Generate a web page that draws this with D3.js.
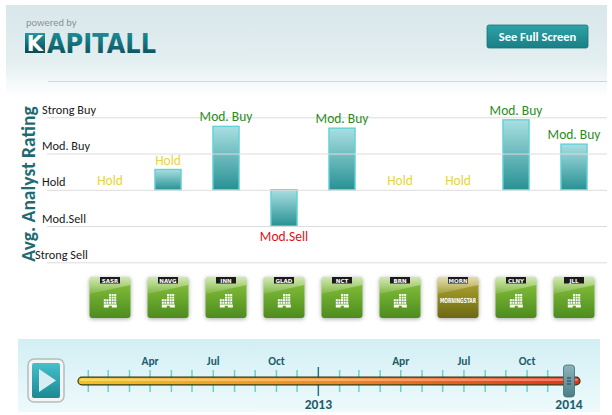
<!DOCTYPE html>
<html>
<head>
<meta charset="utf-8">
<script src="https://cdn.jsdelivr.net/npm/d3@7"></script>
<style>
  body { margin: 0; background: #fff; }
  svg { display: block; }
</style>
</head>
<body>
<script>
// Data
const TICKERS = ["SASR", "NAVG", "INN", "GLAD", "NCT", "BRN", "MORN", "CLNY", "JLL"];
const SCORES  = [0, 0.56, 1.75, -1.0, 1.70, 0, 0, 1.93, 1.26];
const RATINGS = ["Hold", "Hold", "Mod. Buy", "Mod.Sell", "Mod. Buy", "Hold", "Hold", "Mod. Buy", "Mod. Buy"];
const LEVELS  = [-2, -1, 0, 1, 2];
const LEVEL_LABELS = ["Strong Sell", "Mod.Sell", "Hold", "Mod. Buy", "Strong Buy"];
const TL_MONTHS = ["2012-04", "2012-07", "2012-10", "2013-04", "2013-07", "2013-10"];
const TL_YEARS  = [2013, 2014];
const TL_START = new Date(2012, 0, 1), TL_END = new Date(2014, 0, 1);

const W = 612, H = 415;
const FONT = "Carlito, Lato, 'Open Sans', sans-serif";
const RATING_COLOR = { "Hold": "#e6d43c", "Mod. Buy": "#2c8a1c", "Mod.Sell": "#e0101a" };

const svg = d3.select("body").append("svg")
  .attr("width", W).attr("height", H)
  .attr("font-family", FONT);

const defs = svg.append("defs");
function vgrad(id, stops, horiz) {
  const g = defs.append("linearGradient").attr("id", id)
    .attr("x1", 0).attr("y1", 0).attr("x2", horiz ? 1 : 0).attr("y2", horiz ? 0 : 1);
  stops.forEach(s => g.append("stop").attr("offset", s[0]).attr("stop-color", s[1]));
}
vgrad("hdr", [[0, "#d8e7ea"], [0.6, "#e3eef0"], [1, "#ffffff"]]);
vgrad("logo", [[0, "#1f98a2"], [1, "#0b4753"]]);
vgrad("btn", [[0, "#2ea3a8"], [1, "#197f85"]]);
vgrad("bar", [[0, "#a9dfe2"], [1, "#289193"]]);
vgrad("icon", [[0, "#8cc53e"], [1, "#4c8c1e"]]);
vgrad("iconM", [[0, "#b4ab34"], [1, "#6b6812"]]);
vgrad("tlbg", [[0, "#d2eff4"], [1, "#eefafc"]]);
vgrad("play", [[0, "#45c0cb"], [1, "#1c8893"]]);
vgrad("track", [[0, "#f2c41e"], [0.5, "#f08a22"], [1, "#e2301c"]], true);
vgrad("gloss", [[0, "rgba(255,255,255,0.6)"], [1, "rgba(255,255,255,0.1)"]]);
vgrad("thumb", [[0, "#8db4bb"], [1, "#4b7e87"]]);

const shadow = defs.append("filter").attr("id", "shadow")
  .attr("x", "-30%").attr("y", "-30%").attr("width", "160%").attr("height", "160%");
shadow.append("feDropShadow").attr("dx", 0).attr("dy", 1).attr("stdDeviation", 2)
  .attr("flood-color", "#000").attr("flood-opacity", 0.35);

// Header
svg.append("rect").attr("x", 6).attr("y", 5).attr("width", 601).attr("height", 92).attr("fill", "url(#hdr)");
svg.append("line").attr("x1", 48).attr("x2", 607).attr("y1", 81.5).attr("y2", 81.5)
  .attr("stroke", "#cbd9dc").attr("stroke-width", 1);
svg.append("text").attr("x", 26).attr("y", 26).attr("font-size", 10.5).attr("fill", "#8a9293")
  .text("powered by");
svg.append("rect").attr("x", 25).attr("y", 33).attr("width", 20).attr("height", 20).attr("fill", "url(#logo)");
svg.append("text").attr("x", 35).attr("y", 51).attr("text-anchor", "middle")
  .attr("font-family", "'DejaVu Sans', sans-serif").attr("font-weight", "bold")
  .attr("font-size", 21).attr("fill", "#ffffff").text("K");
svg.append("text").attr("x", 47).attr("y", 53)
  .attr("font-family", "'DejaVu Sans', sans-serif").attr("font-weight", "bold")
  .attr("font-size", 27).attr("textLength", 109).attr("lengthAdjust", "spacingAndGlyphs")
  .attr("fill", "url(#logo)").text("APITALL");

svg.append("rect").attr("x", 487).attr("y", 25).attr("width", 101).attr("height", 23).attr("rx", 2)
  .attr("fill", "url(#btn)").attr("stroke", "#16747a").attr("stroke-width", 0.8);
svg.append("text").attr("x", 537.5).attr("y", 41).attr("text-anchor", "middle")
  .attr("font-size", 12.5).attr("font-weight", "bold").attr("fill", "#fff").text("See Full Screen");

// Scales
const x = d3.scaleBand().domain(TICKERS).range([81, 603]).paddingInner(0.55).paddingOuter(0.275);
const y = d3.scaleLinear().domain([-2, 2]).range([262.3, 117.3]);

const data = TICKERS.map((t, i) => ({ ticker: t, score: SCORES[i], rating: RATINGS[i] }));

// Bars
svg.append("g").selectAll("rect").data(data.filter(d => d.score !== 0)).join("rect")
  .attr("x", d => x(d.ticker))
  .attr("width", x.bandwidth())
  .attr("y", d => y(Math.max(0, d.score)))
  .attr("height", d => Math.abs(y(d.score) - y(0)))
  .attr("fill", "url(#bar)")
  .attr("stroke", "#62d2d8").attr("stroke-width", 1.4);

// Rating grid + labels (drawn on top of bars)
const yAxis = svg.append("g").attr("transform", "translate(47,0)")
  .call(d3.axisRight(y).tickValues(LEVELS).tickSize(560)
    .tickFormat((d, i) => LEVEL_LABELS[i]));
yAxis.select(".domain").remove();
yAxis.selectAll(".tick line").attr("stroke", "#dcdcdc").attr("stroke-width", 1);
yAxis.selectAll(".tick text")
  .attr("x", d => d === -2 ? -12 : -5).attr("dy", -4)
  .attr("text-anchor", "start").attr("font-family", FONT)
  .attr("font-size", 12.3).attr("fill", "#1a1a1a");

svg.append("text")
  .attr("transform", "translate(35,184) rotate(-90)")
  .attr("text-anchor", "middle").attr("font-size", 19.5).attr("font-weight", "bold")
  .attr("fill", "#1f6b74").text("Avg. Analyst Rating");

// Value labels
svg.append("g").selectAll("text").data(data).join("text")
  .attr("x", d => x(d.ticker) + x.bandwidth() / 2)
  .attr("y", d => d.score < 0 ? y(d.score) + 15 : y(d.score) - 5)
  .attr("text-anchor", "middle").attr("font-size", 13.5)
  .attr("fill", d => RATING_COLOR[d.rating])
  .text(d => d.rating);

// Ticker icons
const ICON = 41, ICON_Y = 277;
const icons = svg.append("g").selectAll("g").data(data).join("g")
  .attr("transform", d => `translate(${x(d.ticker) + x.bandwidth() / 2 - ICON / 2},${ICON_Y})`);
icons.append("rect").attr("width", ICON).attr("height", ICON).attr("rx", 3)
  .attr("fill", d => d.ticker === "MORN" ? "url(#iconM)" : "url(#icon)")
  .attr("filter", "url(#shadow)");
icons.append("path").attr("d", `M3,0 H${ICON - 3} Q${ICON},0 ${ICON},3 V8 L0,17 V3 Q0,0 3,0 Z`)
  .attr("fill", "url(#gloss)");
icons.append("rect").attr("x", ICON / 2 - 10).attr("y", 0).attr("width", 20).attr("height", 6.5)
  .attr("fill", "#1b1b1b");
icons.append("text").attr("x", ICON / 2).attr("y", 5.6).attr("text-anchor", "middle")
  .attr("font-family", "'DejaVu Sans', sans-serif").attr("font-weight", "bold")
  .attr("font-size", 5.5).attr("fill", "#fff").text(d => d.ticker);

// building glyph
const bldg = icons.filter(d => d.ticker !== "MORN");
const cells = [];
for (let r = 0; r < 4; r++) for (let c = 0; c < 3; c++) cells.push([19.5 + c * 2.6, 17 + r * 2.6]);
for (let r = 0; r < 2; r++) for (let c = 0; c < 2; c++) cells.push([14.3 + c * 2.6, 22.2 + r * 2.6]);
bldg.selectAll("rect.cell").data(cells).join("rect").attr("class", "cell")
  .attr("x", c => c[0]).attr("y", c => c[1]).attr("width", 2).attr("height", 2)
  .attr("fill", "#ffffff");
bldg.append("path").attr("d", "M14.3,27.4 H27.3 V30.5 H22.3 V28.8 H19.3 V30.5 H14.3 Z").attr("fill", "#fff");
icons.filter(d => d.ticker === "MORN").append("text")
  .attr("x", ICON / 2).attr("y", 26).attr("text-anchor", "middle")
  .attr("font-family", "'DejaVu Sans Condensed', 'DejaVu Sans', sans-serif").attr("font-weight", "bold")
  .attr("font-size", 7).attr("textLength", 36).attr("lengthAdjust", "spacingAndGlyphs")
  .attr("fill", "#fff").text("MORNINGSTAR");

// Timeline
svg.append("rect").attr("x", 18).attr("y", 339).attr("width", 582).attr("height", 73)
  .attr("fill", "url(#tlbg)");
svg.append("rect").attr("x", 28).attr("y", 359).attr("width", 36).attr("height", 43).attr("rx", 6)
  .attr("fill", "#f3f5f5").attr("stroke", "#b4bcbd").attr("stroke-width", 1.5);
svg.append("rect").attr("x", 32).attr("y", 363).attr("width", 28).attr("height", 35).attr("rx", 2)
  .attr("fill", "url(#play)");
svg.append("path").attr("d", "M39,369 L39,392 L56,380.5 Z").attr("fill", "#d6eef1");

const t = d3.scaleTime().domain([TL_START, TL_END]).range([67, 569]);
const TRACK_Y = 381;
const months = d3.timeMonth.range(d3.timeMonth.offset(TL_START, 1), TL_END)
  .filter(d => d.getMonth() !== 0);
svg.append("g").selectAll("line").data(months).join("line")
  .attr("x1", d => t(d)).attr("x2", d => t(d))
  .attr("y1", TRACK_Y - 11).attr("y2", TRACK_Y + 11)
  .attr("stroke", "#63d3d2").attr("stroke-width", 1.5);
const yearDates = TL_YEARS.map(yr => new Date(yr, 0, 1));
svg.append("line").attr("x1", t(yearDates[0])).attr("x2", t(yearDates[0]))
  .attr("y1", TRACK_Y - 14).attr("y2", TRACK_Y + 15)
  .attr("stroke", "#237883").attr("stroke-width", 1.5);

svg.append("rect").attr("x", 78).attr("y", TRACK_Y - 3.8).attr("width", 502).attr("height", 7.6)
  .attr("rx", 3.8).attr("fill", "url(#track)").attr("stroke", "#33380f").attr("stroke-width", 1.2);
svg.append("rect").attr("x", 80).attr("y", TRACK_Y - 2.6).attr("width", 498).attr("height", 2.6)
  .attr("rx", 1.3).attr("fill", "rgba(255,255,255,0.35)");

const parseM = d3.timeParse("%Y-%m");
svg.append("g").selectAll("text").data(TL_MONTHS).join("text")
  .attr("x", d => t(d3.timeMonth.offset(parseM(d), 1)))
  .attr("y", 365).attr("text-anchor", "middle")
  .attr("font-size", 11.5).attr("font-weight", "bold").attr("fill", "#1d5d6b")
  .text(d => d3.timeFormat("%b")(parseM(d)));
svg.append("g").selectAll("text").data(yearDates).join("text")
  .attr("x", d => t(d)).attr("y", 409).attr("text-anchor", "middle")
  .attr("font-size", 13.5).attr("font-weight", "bold").attr("fill", "#1d5d6b")
  .text(d => d.getFullYear());

// Slider thumb at end of range
const thumbX = t(yearDates[1]);
svg.append("rect").attr("x", thumbX - 5.5).attr("y", 365).attr("width", 11).attr("height", 32).attr("rx", 3)
  .attr("fill", "url(#thumb)").attr("stroke", "#3e6d75").attr("stroke-width", 0.8);
svg.append("g").selectAll("line").data([-3, 0, 3]).join("line")
  .attr("x1", thumbX - 2).attr("x2", thumbX + 2)
  .attr("y1", d => TRACK_Y + d).attr("y2", d => TRACK_Y + d)
  .attr("stroke", "#233f44").attr("stroke-width", 1);
</script>
</body>
</html>
